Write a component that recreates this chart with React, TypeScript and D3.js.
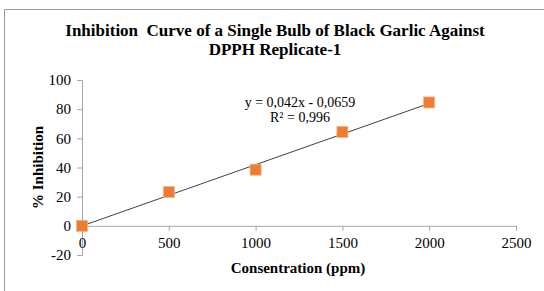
import { useEffect, useRef } from "react"
import * as d3 from "d3"

const concentrations = [0, 500, 1000, 1500, 2000]
const inhibition = [0, 23.2, 38.5, 64.3, 84.6]
const slope = 0.042
const intercept = -0.0659
const xTicks = [0, 500, 1000, 1500, 2000, 2500]
const yTicks = [-20, 0, 20, 40, 60, 80, 100]
const titleLines = ["Inhibition  Curve of a Single Bulb of Black Garlic Against", "DPPH Replicate-1"]
const equationLines = ["y = 0,042x - 0,0659", "R² = 0,996"]

const W = 544
const H = 291
const FONT = "'Liberation Serif', 'Times New Roman', serif"

export default function App() {
  const svgRef = useRef<SVGSVGElement>(null)

  useEffect(() => {
    if (!svgRef.current) return
    const svg = d3.select(svgRef.current)
    svg.selectAll("*").remove()

    const x = d3.scaleLinear().domain([0, 2500]).range([82, 516])
    const y = d3.scaleLinear().domain([-20, 100]).range([255, 80])

    // frame
    svg.append("path").attr("d", `M4.5,${H} V9.5 H${W}`).attr("fill", "none").attr("stroke", "#9a9a9a")

    // title
    titleLines.forEach((t, i) => {
      svg.append("text")
        .attr("x", 275)
        .attr("y", 36 + i * 19)
        .attr("text-anchor", "middle")
        .style("font-family", FONT)
        .style("font-weight", "bold")
        .style("font-size", "17px")
        .style("white-space", "pre")
        .text(t)
    })

    const fmt = (d: d3.NumberValue) => String(d)

    // y axis
    const yAxis = svg.append("g").attr("transform", `translate(${x(0)},0)`)
      .call(d3.axisLeft(y).tickValues(yTicks).tickFormat(fmt).tickSize(5).tickPadding(6))
    yAxis.selectAll("text")
      .attr("fill", "#000")
      .style("font-family", FONT)
      .style("font-size", "15px")

    // x axis along y=0
    const xAxis = svg.append("g").attr("transform", `translate(0,${y(0)})`)
      .call(d3.axisBottom(x).tickValues(xTicks).tickFormat(fmt).tickSize(5).tickPadding(7))
    xAxis.selectAll("text")
      .attr("fill", "#000")
      .style("font-family", FONT)
      .style("font-size", "15px")

    svg.selectAll(".domain").attr("stroke", "#a6a6a6")
    svg.selectAll(".tick line").attr("stroke", "#a6a6a6")

    // axis titles
    svg.append("text")
      .attr("x", 298)
      .attr("y", 273)
      .attr("text-anchor", "middle")
      .style("font-family", FONT)
      .style("font-weight", "bold")
      .style("font-size", "15px")
      .text("Consentration (ppm)")

    svg.append("text")
      .attr("transform", `translate(43,${y(40)}) rotate(-90)`)
      .attr("text-anchor", "middle")
      .style("font-family", FONT)
      .style("font-weight", "bold")
      .style("font-size", "15px")
      .text("% Inhibition")

    // trendline
    const xs = [0, 2000]
    svg.append("line")
      .attr("x1", x(xs[0]))
      .attr("y1", y(slope * xs[0] + intercept))
      .attr("x2", x(xs[1]))
      .attr("y2", y(slope * xs[1] + intercept))
      .attr("stroke", "#404040")
      .attr("stroke-width", 1)

    // markers
    const s = 11
    svg.append("g")
      .selectAll("rect")
      .data(concentrations.map((c, i) => [c, inhibition[i]]))
      .join("rect")
      .attr("x", (d) => x(d[0]) - s / 2)
      .attr("y", (d) => y(d[1]) - s / 2)
      .attr("width", s)
      .attr("height", s)
      .attr("fill", "#ed7d31")
      .attr("stroke", "#f4b183")
      .attr("stroke-width", 0.8)

    // equation
    equationLines.forEach((t, i) => {
      svg.append("text")
        .attr("x", 300)
        .attr("y", 107 + i * 15)
        .attr("text-anchor", "middle")
        .style("font-family", FONT)
        .style("font-size", "14px")
        .text(t)
    })
  }, [])

  return (
    <svg
      ref={svgRef}
      width={W}
      height={H}
      style={{ position: "absolute", left: 0, top: 0, background: "#fff" }}
    />
  )
}
